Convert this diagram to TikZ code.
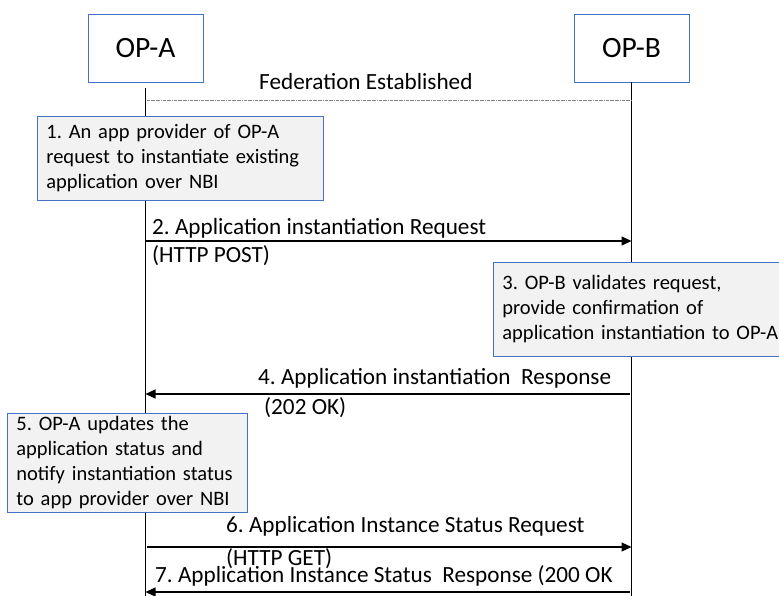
\documentclass[tikz,border=0pt]{standalone}
\usepackage{fontspec}
\setmainfont{Carlito}
\usetikzlibrary{arrows.meta,positioning}
\definecolor{boxblue}{RGB}{68,114,196}
\definecolor{notegray}{RGB}{242,242,242}
\frenchspacing

\begin{document}
\begin{tikzpicture}[x=1pt, y=-1pt,
  every node/.style={font=\fontsize{23.2}{27}\selectfont, inner sep=0pt},
  party/.style={draw=boxblue, thick, fill=white, minimum width=115pt, minimum height=68pt, font=\fontsize{29.5}{33}\selectfont},
  note/.style={draw=boxblue, thick, fill=notegray, align=left, inner xsep=9pt, anchor=north west, font=\fontsize{20.5}{25}\selectfont},
  msg/.style={line width=1.2pt, -{Triangle[length=10pt,width=9pt]}},
  lbl/.style={anchor=west}]

  \useasboundingbox (0,0) rectangle (779,596);

  % Parties
  \node[party] (opa) at (145.5,48) {OP-A};
  \node[party] (opb) at (631.5,48) {OP-B};

  % Lifelines
  \coordinate (aTop) at ([yshift=-6pt]opa.south);
  \coordinate (aEnd) at (opa |- 0,600);
  \coordinate (bEnd) at (opb |- 0,600);
  \draw[line width=1.2pt] (aTop) -- (aEnd);
  \draw[line width=1.2pt] (opb.south) -- (bEnd);

  % Federation
  \node[lbl] (fed) at (259,82) {Federation Established};
  \draw[gray, densely dash dot, thin] ([xshift=1pt]opa |- 0,100) -- (opb |- 0,100);

  % Step 1
  \node[note, text width=268pt, minimum height=84pt] (step1) at (37,116)
    {1. An app provider of OP-A\\request to instantiate existing\\application over NBI};

  % Step 2
  \draw[msg] (opa |- 0,241) -- (opb |- 0,241);
  \node[lbl] (m2) at (152,228) {2. Application instantiation Request};
  \node[lbl] (m2b) at (152,256) {(HTTP POST)};

  % Step 3
  \node[note, text width=300pt, minimum height=94pt] (step3) at (493,262)
    {3. OP-B validates request,\\provide confirmation of\\application instantiation to OP-A};

  % Step 4
  \draw[msg] ([xshift=-2pt]opb |- 0,394) -- (opa |- 0,394);
  \node[lbl] (m4) at (258,378) {4. Application instantiation~ Response};
  \node[lbl] (m4b) at (264,408) {(202 OK)};

  % Step 5
  \node[note, text width=222pt, minimum height=99pt] (step5) at (7,413)
    {5. OP-A updates the\\application status and\\notify instantiation status\\to app provider over NBI};

  % Step 6
  \draw[msg] ([xshift=1pt]opa |- 0,547) -- (opb |- 0,547);
  \node[lbl] (m6) at (226,526) {6. Application Instance Status Request};
  \node[lbl] (m6b) at (226,559) {(HTTP GET)};

  % Step 7
  \draw[msg] ([xshift=-2pt]opb |- 0,592) -- (opa |- 0,592);
  \node[lbl] (m7) at (155,576) {7. Application Instance Status~ Response (200 OK};
\end{tikzpicture}
\end{document}
